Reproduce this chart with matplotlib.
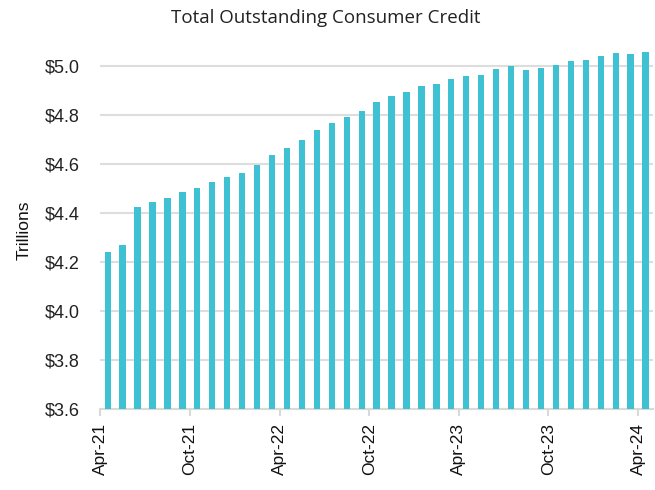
import matplotlib
matplotlib.use("Agg")
import matplotlib.pyplot as plt

# monthly, Apr-21 .. Apr-24 (trillions of dollars)
months = [
    "Apr-21", "May-21", "Jun-21", "Jul-21", "Aug-21", "Sep-21", "Oct-21", "Nov-21", "Dec-21",
    "Jan-22", "Feb-22", "Mar-22", "Apr-22", "May-22", "Jun-22", "Jul-22", "Aug-22", "Sep-22",
    "Oct-22", "Nov-22", "Dec-22", "Jan-23", "Feb-23", "Mar-23", "Apr-23", "May-23", "Jun-23",
    "Jul-23", "Aug-23", "Sep-23", "Oct-23", "Nov-23", "Dec-23", "Jan-24", "Feb-24", "Mar-24",
    "Apr-24",
]
credit = [
    4.241, 4.271, 4.422, 4.444, 4.461, 4.484, 4.500, 4.524, 4.548,
    4.564, 4.597, 4.634, 4.664, 4.697, 4.739, 4.765, 4.789, 4.816,
    4.850, 4.877, 4.894, 4.916, 4.927, 4.944, 4.959, 4.963, 4.988,
    5.000, 4.983, 4.992, 5.003, 5.020, 5.024, 5.038, 5.050, 5.048,
    5.055,
]
tick_labels = ["Apr-21", "Oct-21", "Apr-22", "Oct-22", "Apr-23", "Oct-23", "Apr-24"]
y_ticks = [3.6, 3.8, 4.0, 4.2, 4.4, 4.6, 4.8, 5.0]

plt.rcParams["font.family"] = ["Liberation Sans", "DejaVu Sans"]

fig = plt.figure(figsize=(6.55, 4.9), dpi=100)
ax = fig.add_axes([0.153, 0.165, 0.844, 0.731])

x = list(range(len(months)))
ax.bar(x, credit, width=0.42, color="#3ec1d3", zorder=3)

ax.set_xlim(-0.5, len(months) - 0.5)
ax.set_ylim(3.6, 5.06)
ax.set_yticks(y_ticks)
ax.set_yticklabels([f"${v:.1f}" for v in y_ticks], fontsize=13, color="#222222")
ax.yaxis.grid(True, color="#dddddd", linewidth=1.5, zorder=0)
ax.tick_params(axis="y", length=0, pad=15)

tick_pos = [months.index(t) - 0.5 for t in tick_labels]
ax.set_xticks(tick_pos)
ax.set_xticklabels(tick_labels, rotation=90, fontsize=12.5, color="#111111")
ax.tick_params(axis="x", length=5, width=1.5, color="#d9d9d9", pad=5)

for s in ["left", "right", "top"]:
    ax.spines[s].set_visible(False)
ax.spines["bottom"].set_color("#d9d9d9")
ax.spines["bottom"].set_linewidth(1.5)

ax.set_ylabel("Trillions", fontsize=12.5, color="#111111", labelpad=9)
fig.text(0.497, 0.963, "Total Outstanding Consumer Credit", ha="center", va="center",
         fontsize=13.5, color="#222222", family=["Open Sans", "DejaVu Sans"])

fig.savefig("out.png", dpi=100)
